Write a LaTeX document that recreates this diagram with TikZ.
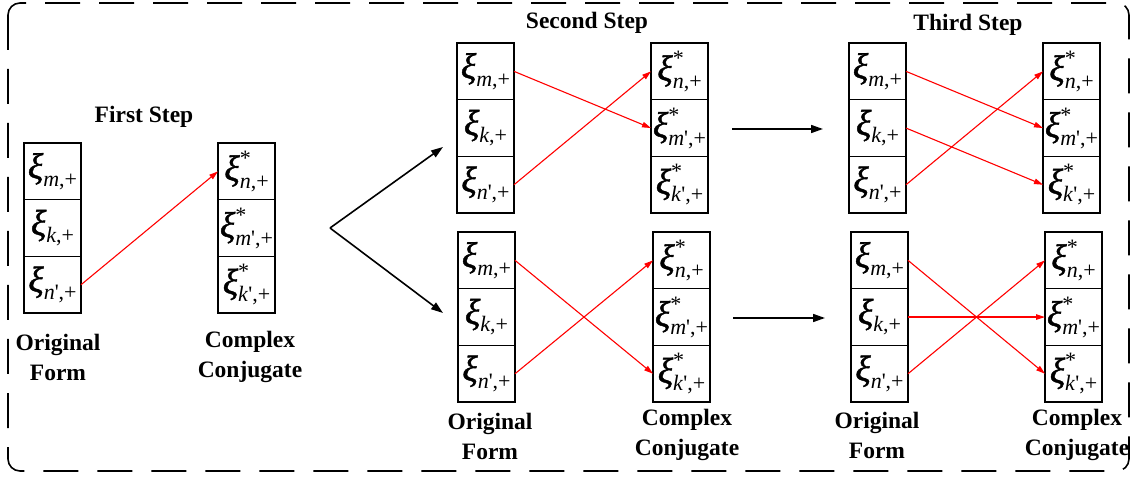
\documentclass[tikz,border=0pt]{standalone}
\usepackage{fontspec}
\setmainfont{Liberation Serif}
\newfontface\xiface[FakeBold=1.2]{Liberation Serif Italic}
\usetikzlibrary{arrows.meta}

% xi with an index, plain and conjugated (starred)
\newcommand\xiglyph{{\fontsize{36}{36}\xiface ξ}}
\newcommand\xisub[1]{\raisebox{-8pt}{\fontsize{22}{22}\selectfont #1}}
\newcommand\xiO[1]{\xiglyph\xisub{#1}}
\newcommand\xiC[1]{\xiglyph\rlap{\raisebox{15pt}{\fontsize{22}{22}\selectfont *}}\xisub{#1}}
\newcommand\pr{\textquotesingle}

% a column of three stacked cells: name, x, top y, three contents
\newcommand\cellstack[6]{%
  \node[cell] (#1-1) at (#2,#3) {#4};
  \node[cell] (#1-2) at (#2,#3+56.7) {#5};
  \node[cell] (#1-3) at (#2,#3+113.4) {#6};
}
\newcommand\origcol[3]{\cellstack{#1}{#2}{#3}%
  {\xiO{\textit{m},+}}{\xiO{\textit{k},+}}{\xiO{\textit{n}\pr,+}}}
\newcommand\conjcol[3]{\cellstack{#1}{#2}{#3}%
  {\xiC{\textit{n},+}}{\xiC{\textit{m}\pr,+}}{\xiC{\textit{k}\pr,+}}}

\tikzset{
  cell/.style={draw, line width=1.6pt, minimum width=57pt, minimum height=56.7pt,
    inner sep=0pt, outer sep=0pt, anchor=north west},
  label/.style={font=\bfseries\fontsize{23.5}{30}\selectfont, align=center, inner sep=0pt},
  map/.style={red, line width=1.1pt, -{Triangle[length=9pt,width=5.5pt]}},
  flow/.style={black, line width=1.6pt, -{Triangle[length=12pt,width=8pt]}},
  frame/.style={line width=1.6pt, dash pattern=on 35pt off 19pt, rounded corners=12pt}
}

\begin{document}
\begin{tikzpicture}[x=1pt,y=-1pt]
\useasboundingbox (0,0) rectangle (1133,478);

% outer dashed frame
\draw[frame] (8,3) rectangle (1129,471);

% first step
\node[label] (t1) at (144,117) {First Step};
\origcol{A}{24}{143}
\conjcol{B}{218}{143}
\node[label] (oA) at (58,357) {Original\\Form};
\node[label] (cB) at (250,357) {Complex\\Conjugate};
\draw[map] (A-3.east) -- (B-1.west);

% branching to the second step
\coordinate (fork) at (330,228);
\coordinate (up) at (443,147);
\coordinate (down) at (443,313);
\draw[flow] (fork) -- (up);
\draw[flow] (fork) -- (down);

% second step, upper pair
\node[label] (t2) at (587,23) {Second Step};
\origcol{C}{457}{43}
\conjcol{D}{651}{43}
\draw[map] (C-1.east) -- (D-2.west);
\draw[map] (C-3.east) -- (D-1.west);

% second step, lower pair
\origcol{E}{458}{232}
\conjcol{F}{653}{232}
\draw[map] (E-1.east) -- (F-3.west);
\draw[map] (E-3.east) -- (F-1.west);
\node[label] (oE) at (490,436) {Original\\Form};
\node[label] (cF) at (687,435) {Complex\\Conjugate};

% towards the third step
\coordinate (h1s) at (732,129);
\coordinate (h1e) at (823,129);
\coordinate (h2s) at (733,318);
\coordinate (h2e) at (825,318);
\draw[flow] (h1s) -- (h1e);
\draw[flow] (h2s) -- (h2e);

% third step, upper pair
\node[label] (t3) at (968,25) {Third Step};
\origcol{G}{849}{43}
\conjcol{H}{1043}{43}
\draw[map] (G-1.east) -- (H-2.west);
\draw[map] (G-2.east) -- (H-3.west);
\draw[map] (G-3.east) -- (H-1.west);

% third step, lower pair
\origcol{I}{851}{232}
\conjcol{J}{1045}{232}
\draw[map] (I-1.east) -- (J-3.west);
\draw[map] (I-2.east) -- (J-2.west);
\draw[map] (I-3.east) -- (J-1.west);
\node[label] (oI) at (877,435) {Original\\Form};
\node[label] (cJ) at (1077,435) {Complex\\Conjugate};
\end{tikzpicture}
\end{document}
